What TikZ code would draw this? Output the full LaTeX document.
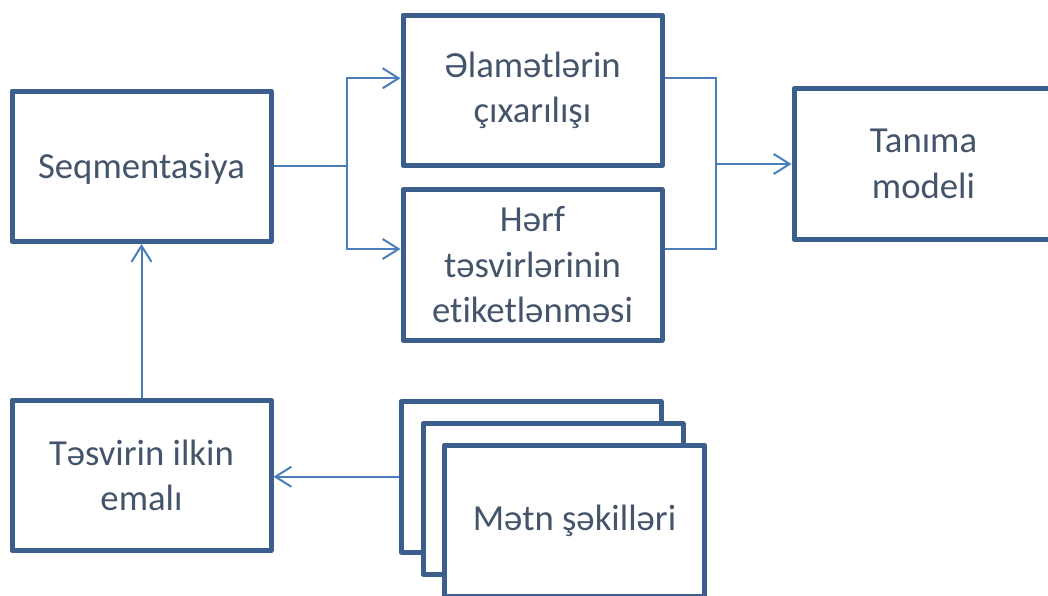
\documentclass[tikz,border=0pt]{standalone}
\usepackage{fontspec}
\setmainfont{Carlito}[Ligatures={NoCommon}]
\usetikzlibrary{arrows.meta}
\definecolor{boxline}{HTML}{3B5E8C}
\definecolor{conn}{HTML}{4A7EBB}
\definecolor{txt}{HTML}{44546A}
\begin{document}
\begin{tikzpicture}[x=1pt,y=-1pt,
  stepbox/.style={draw=boxline, line width=5pt, line join=round, fill=white,
    minimum width=259pt, minimum height=150.5pt, inner sep=0pt,
    align=center, text=txt,
    font=\fontsize{36.7pt}{45.5pt}\selectfont},
  link/.style={draw=conn, line width=2pt},
  arr/.style={link, -{Straight Barb[length=16pt,width=20pt,line width=2pt]}}]
  \useasboundingbox (0,0) rectangle (1048,595);
  \clip (0,0) rectangle (1048,595);

  % main processing boxes
  \node[stepbox, text depth=0pt] (seg) at (141.5,166.25) {Seqmentasiya};
  \node[stepbox] (ela)  at (532.5,90.25)  {Əlamətlərin\\çıxarılışı};
  \node[stepbox] (herf) at (532.5,264.75) {Hərf\\təsvirlərinin\\etiketlənməsi};
  \node[stepbox] (tan)  at (923.5,164)    {Tanıma\\modeli};
  \node[stepbox] (pre)  at (141.5,475.25) {Təsvirin ilkin\\emalı};

  % stacked input documents
  \node[stepbox, minimum width=260pt] (back)  at (531,476.75) {};
  \node[stepbox, minimum width=260pt] (mid)   at (553,499)    {};
  \node[stepbox, minimum width=260pt, minimum height=151pt] (front) at (574.5,520.5) {Mətn şəkilləri};

  % split after segmentation
  \coordinate (jl) at ([xshift=73.5pt]seg.east);
  \draw[link] (seg.east) -- (jl);
  \draw[arr] (jl) |- ([yshift=12pt]ela.west);
  \draw[arr] (jl) |- ([yshift=15.75pt]herf.west);

  % merge into the recognition model
  \coordinate (jr) at (716,164);
  \draw[link] ([yshift=12pt]ela.east) -| (jr);
  \draw[link] ([yshift=15.75pt]herf.east) -| (jr);
  \draw[arr] (jr) -- (tan.west);

  % input flow
  \draw[arr] (back.west) -- (back.west -| pre.east);
  \draw[arr] (pre.north) -- (seg.south);
\end{tikzpicture}
\end{document}
